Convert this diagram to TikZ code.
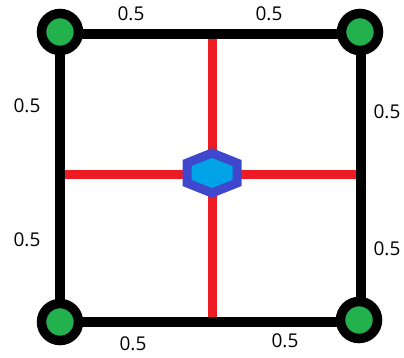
\documentclass[tikz,border=0pt]{standalone}
\usepackage{fontspec}
\setmainfont{Open Sans}
\definecolor{pgreen}{RGB}{34,177,76}
\definecolor{pred}{RGB}{237,28,36}
\definecolor{pblue}{RGB}{63,72,204}
\definecolor{pcyan}{RGB}{0,162,232}
\begin{document}
\begin{tikzpicture}[x=1pt,y=-1pt,
  edge/.style={line width=10pt,black},
  cross/.style={line width=9pt,pred},
  corner/.style={circle,draw=black,line width=9.5pt,fill=pgreen,minimum size=37pt,inner sep=0pt},
  lbl/.style={font=\fontsize{19}{19}\selectfont,text=black,inner sep=0pt}]
\useasboundingbox (0,0) rectangle (404,358);
\coordinate (tl) at (60,34);
\coordinate (tr) at (360.5,34);
\coordinate (bl) at (60,322);
\coordinate (br) at (360.5,322);
\coordinate (tm) at (212,34);
\coordinate (bm) at (212,322);
\coordinate (lm) at (60,175);
\coordinate (rm) at (360.5,175);
\draw[cross] (tm) -- (bm);
\draw[cross] (lm) -- (rm);
\draw[edge] (tl) -- (tr) -- (br) -- (bl) -- cycle;
\node[corner] (ctl) at (60,32) {};
\node[corner] (ctr) at (360,32) {};
\node[corner] (cbl) at (60,322) {};
\node[corner] (cbr) at (359,320) {};
\draw[line width=9pt,pblue,fill=pcyan,line join=miter]
  (212,153) -- (237,163) -- (237,183) -- (212,193) -- (187,183) -- (187,163) -- cycle;
\node[lbl] (t1) at (131,14) {0.5};
\node[lbl] (t2) at (269,14) {0.5};
\node[lbl] (l1) at (27,106) {0.5};
\node[lbl] (l2) at (27,240) {0.5};
\node[lbl] (r1) at (387,112) {0.5};
\node[lbl] (r2) at (387,249) {0.5};
\node[lbl] (b1) at (133,344) {0.5};
\node[lbl] (b2) at (285,341) {0.5};
\end{tikzpicture}
\end{document}
